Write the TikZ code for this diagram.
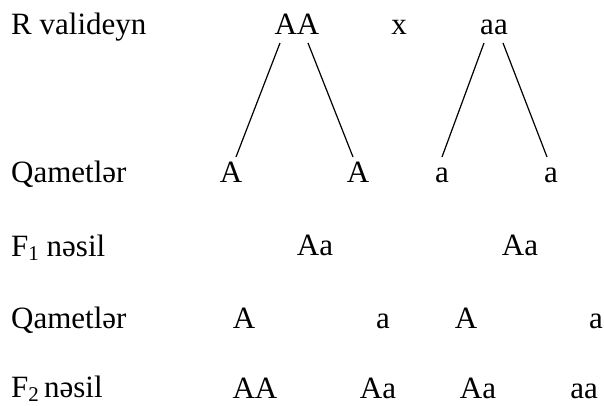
\documentclass[tikz,border=0pt]{standalone}
\usepackage{fontspec}
\setmainfont{Liberation Serif}
\newcommand{\lowsub}[1]{\raisebox{-4pt}{\fontsize{21}{21}\selectfont #1}}
\begin{document}
\begin{tikzpicture}[x=1pt,y=1pt,
  lbl/.style={anchor=base west,inner sep=0pt,font=\fontsize{31}{37}\selectfont},
  gen/.style={anchor=base,inner sep=0pt,font=\fontsize{31}{37}\selectfont},
  link/.style={line width=1.2pt,black}]
\useasboundingbox (0,0) rectangle (604,406);
% row 1
\node[lbl] (r1) at (11,371) {R valideyn};
\node[gen] (AA) at (297,371) {AA};
\node[gen] (x) at (399,371) {x};
\node[gen] (aa) at (494,371) {aa};
% row 2
\node[lbl] (r2) at (11,223) {Qametlər};
\node[gen] (g1) at (231,223) {A};
\node[gen] (g2) at (358,223) {A};
\node[gen] (g3) at (442,223) {a};
\node[gen] (g4) at (551,223) {a};
% row 3
\node[lbl] (r3) at (11,149) {F\lowsub{1} nəsil};
\node[gen] (f1) at (315,150) {Aa};
\node[gen] (f2) at (520,150) {Aa};
% row 4
\node[lbl] (r4) at (11,77) {Qametlər};
\node[gen] (h1) at (244,77) {A};
\node[gen] (h2) at (383,77) {a};
\node[gen] (h3) at (466,77) {A};
\node[gen] (h4) at (596,77) {a};
% row 5
\node[lbl] (r5) at (11,8) {F\lowsub{2}\,nəsil};
\node[gen] (k1) at (255,7) {AA};
\node[gen] (k2) at (378,7) {Aa};
\node[gen] (k3) at (478,7) {Aa};
\node[gen] (k4) at (584,7) {aa};
% connectors
\draw[link] ([shift={(-17pt,-8pt)}]AA.base) -- ([shift={(5pt,26pt)}]g1.base);
\draw[link] ([shift={(11pt,-8pt)}]AA.base) -- ([shift={(-5pt,26pt)}]g2.base);
\draw[link] ([shift={(-10pt,-8pt)}]aa.base) -- ([shift={(0pt,26pt)}]g3.base);
\draw[link] ([shift={(9pt,-8pt)}]aa.base) -- ([shift={(-4pt,26pt)}]g4.base);
\end{tikzpicture}
\end{document}
